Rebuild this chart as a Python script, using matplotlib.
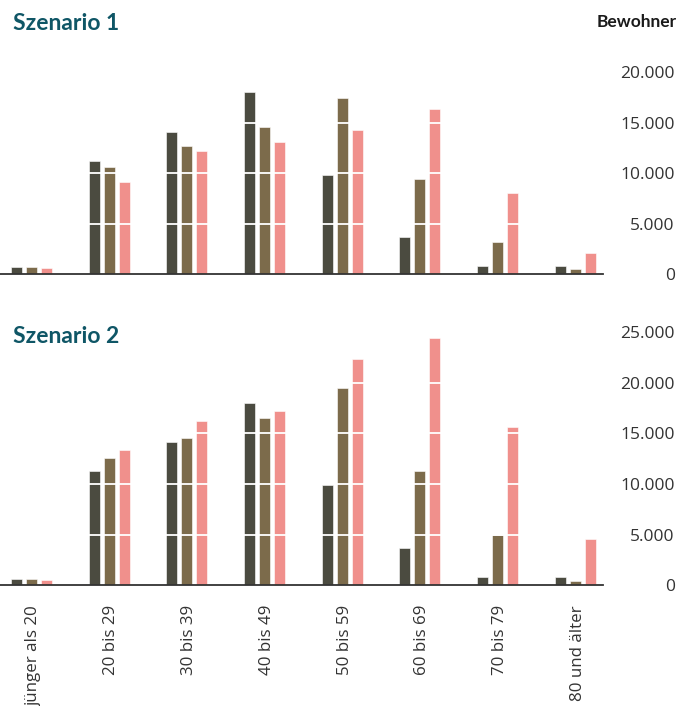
import matplotlib
matplotlib.use("Agg")
import matplotlib.pyplot as plt
import numpy as np

# Altersgruppen und Bewohnerzahlen je Szenario (drei Reihen pro Gruppe)
gruppen = ["jünger als 20", "20 bis 29", "30 bis 39", "40 bis 49",
           "50 bis 59", "60 bis 69", "70 bis 79", "80 und älter"]

s1_a = [700, 11180, 14110, 18050, 9870, 3680, 840, 840]
s1_b = [700, 10660, 12660, 14600, 17490, 9450, 3220, 540]
s1_c = [600, 9180, 12170, 13050, 14240, 16390, 8070, 2130]

s2_a = [600, 11270, 14170, 18030, 9890, 3650, 790, 790]
s2_b = [600, 12620, 14530, 16490, 19460, 11340, 4960, 450]
s2_c = [530, 13350, 16180, 17180, 22320, 24450, 15640, 4570]

ticks1 = [0, 5000, 10000, 15000, 20000]
ticks2 = [0, 5000, 10000, 15000, 20000, 25000]

farben = ["#4b4b40", "#7c6b4b", "#f0908c"]
teal = "#0f5666"

plt.rcParams["font.family"] = ["Open Sans", "DejaVu Sans"]

fig = plt.figure(figsize=(6.92, 7.06), dpi=100)
ax1 = fig.add_axes([0, 0.6112, 0.8707, 0.301])
ax2 = fig.add_axes([0, 0.1707, 0.8707, 0.3734])

x = np.arange(len(gruppen))
off = 0.193
breite = 0.142


def panel(ax, reihen, ticks, ymax):
    for i, (werte, farbe) in enumerate(zip(reihen, farben)):
        ax.bar(x + (i - 1) * off, werte, breite, color=farbe,
               edgecolor="white", linewidth=0.4, zorder=2)
    # weiße Hilfslinien über den Balken
    for t in ticks[1:]:
        ax.axhline(t, color="white", lw=1.3, zorder=3)
    ax.set_xlim(-0.405, 7.35)
    ax.set_ylim(0, ymax)
    for s in ["top", "left", "right"]:
        ax.spines[s].set_visible(False)
    ax.spines["bottom"].set_color("#333333")
    ax.spines["bottom"].set_linewidth(1.3)
    ax.spines["bottom"].set_zorder(4)
    ax.yaxis.tick_right()
    ax.set_yticks(ticks)
    ax.set_yticklabels([f"{t:,}".replace(",", ".") for t in ticks])
    ax.tick_params(axis="y", length=0, pad=52, labelsize=12.5,
                   labelcolor="#333333")
    for lab in ax.get_yticklabels():
        lab.set_horizontalalignment("right")


panel(ax1, [s1_a, s1_b, s1_c], ticks1, 21000)
panel(ax2, [s2_a, s2_b, s2_c], ticks2, 26000)

ax1.set_xticks([])
ax2.set_xticks(x + 0.03)
ax2.set_xticklabels(gruppen, rotation=90, fontsize=12.2, color="#333333")
ax2.tick_params(axis="x", length=0, pad=14)

fig.text(13 / 692, 1 - 30 / 706, "Szenario 1", family="Lato",
         weight="bold", fontsize=16.5, color=teal, va="baseline")
fig.text(13 / 692, 1 - 343 / 706, "Szenario 2", family="Lato",
         weight="bold", fontsize=16.5, color=teal, va="baseline")
fig.text(677 / 692, 1 - 27 / 706, "Bewohner", family="Lato",
         weight="bold", fontsize=12.5, color="#1a1a1a", ha="right",
         va="baseline")

fig.savefig("out.png", dpi=100)
